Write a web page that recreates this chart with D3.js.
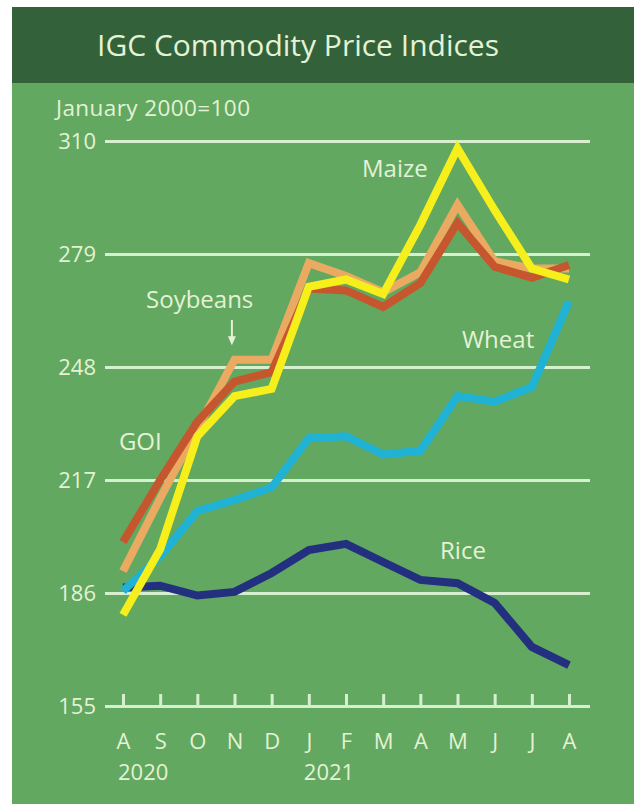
<!DOCTYPE html>
<html>
<head>
<meta charset="utf-8">
<script src="https://cdn.jsdelivr.net/npm/d3@7"></script>
<style>
  body { margin: 0; background: #fff; }
  svg { display: block; font-family: "Open Sans", "Noto Sans", sans-serif; }
</style>
</head>
<body>
<svg id="chart" width="634" height="804"></svg>
<script>
// data, index 0 = Aug 2020 ... 12 = Aug 2021
const months = ["A", "S", "O", "N", "D", "J", "F", "M", "A", "M", "J", "J", "A"];
const years = ["2020", "2021"];
const yearStart = [0, 5];
const yTicks = [155, 186, 217, 248, 279, 310];

const rice = [187.5, 188, 185.3, 186.3, 191.5, 197.8, 199.5, 194.5, 189.6, 188.7, 183.3, 171.2, 166.2];
const wheat = [186.5, 196, 208.5, 211.5, 215, 228.5, 229, 224, 225, 240, 238.5, 242.5, 266];
const soybeans = [192, 212, 231, 250, 250, 276.5, 273, 268.5, 274, 292.5, 277, 275, 275];
const goi = [200, 217, 233, 244, 246.6, 269.5, 269, 264.5, 271, 287.5, 275.5, 272.5, 276];
const maize = [180, 198, 229, 240, 242, 270, 272, 268, 287, 308, 291, 275, 272];

const seriesNames = ["Rice", "Wheat", "Soybeans", "GOI", "Maize"];
const seriesValues = [rice, wheat, soybeans, goi, maize];
const seriesColors = ["#22307f", "#1fb2d4", "#eaaa62", "#c6562d", "#f6ef1c"];

const svg = d3.select("#chart");
const textColor = "#e4f2d6";

// background panel and title bar
svg.append("rect").attr("x", 12).attr("y", 7).attr("width", 622).attr("height", 797).attr("fill", "#62a860");
svg.append("rect").attr("x", 12).attr("y", 7).attr("width", 622).attr("height", 76).attr("fill", "#33623a");
svg.append("text").attr("x", 97).attr("y", 56)
  .attr("fill", textColor).attr("font-size", 30)
  .text("IGC Commodity Price Indices");
svg.append("text").attr("x", 56).attr("y", 116)
  .attr("fill", textColor).attr("font-size", 22.5)
  .attr("textLength", 194)
  .text("January 2000=100");

const x = d3.scaleLinear().domain([0, months.length - 1]).range([123, 569]);
const y = d3.scaleLinear().domain([155, 310]).range([706, 141]);

// horizontal grid + y labels
const yAxis = svg.append("g")
  .attr("transform", "translate(105,0)")
  .call(d3.axisLeft(y).tickValues(yTicks).tickSize(-485).tickPadding(9));
yAxis.select(".domain").remove();
yAxis.selectAll(".tick line").attr("stroke", "#d8efcf").attr("stroke-width", 3);
yAxis.selectAll(".tick text").attr("fill", textColor).attr("font-size", 22)
  .attr("font-family", "Open Sans");

// month ticks pointing up from the 155 line
const xAxis = svg.append("g")
  .attr("transform", `translate(0,${y(155)})`)
  .call(d3.axisBottom(x).tickValues(d3.range(months.length))
    .tickFormat((i) => months[i]).tickSize(-12).tickPadding(27));
xAxis.select(".domain").remove();
xAxis.selectAll(".tick line").attr("stroke", "#d8efcf").attr("stroke-width", 3);
xAxis.selectAll(".tick text").attr("fill", textColor).attr("font-size", 22)
  .attr("font-family", "Open Sans");

svg.append("g").selectAll("text")
  .data(years)
  .enter()
  .append("text")
  .attr("x", (d, i) => x(yearStart[i]) - 5)
  .attr("y", 780)
  .attr("fill", textColor)
  .attr("font-size", 22)
  .text((d) => d);

// lines
const line = d3.line().x((d, i) => x(i)).y((d) => y(d));
svg.append("g").selectAll("path")
  .data(seriesValues)
  .enter()
  .append("path")
  .attr("d", line)
  .attr("fill", "none")
  .attr("stroke", (d, i) => seriesColors[i])
  .attr("stroke-width", 8)
  .attr("stroke-linejoin", "miter")
  .attr("stroke-linecap", "butt");

// series labels, placed in data units
const labelNames = ["Maize", "Soybeans", "Wheat", "GOI", "Rice"];
const labelAt = [[6.43, 300.1], [0.62, 264.2], [9.12, 253.2], [-0.11, 225.2], [8.53, 195.3]];
svg.append("g").selectAll("text")
  .data(labelNames)
  .enter()
  .append("text")
  .attr("x", (d, i) => x(labelAt[i][0]))
  .attr("y", (d, i) => y(labelAt[i][1]))
  .attr("fill", textColor)
  .attr("font-size", 24)
  .text((d) => d);

// little arrow under "Soybeans"
const ax = x(2.93), ay0 = y(260.9), ay1 = y(254);
svg.append("line").attr("x1", ax).attr("x2", ax).attr("y1", ay0).attr("y2", ay1 - 6)
  .attr("stroke", textColor).attr("stroke-width", 2);
svg.append("path")
  .attr("d", `M${ax - 4},${ay1 - 9}L${ax + 4},${ay1 - 9}L${ax},${ay1}Z`)
  .attr("fill", textColor);
</script>
</body>
</html>
